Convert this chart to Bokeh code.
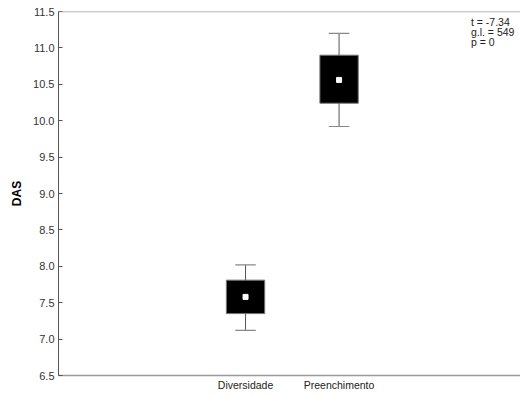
from bokeh.plotting import figure
from bokeh.models import FixedTicker, Span, Label, ColumnDataSource
from bokeh.embed import file_html
from bokeh.resources import INLINE

# Group summaries for DAS
groups = ["Diversidade", "Preenchimento"]
group_pos = [2, 3]
means = [7.58, 10.56]
box_low = [7.35, 10.24]
box_high = [7.81, 10.90]
whisk_low = [7.12, 9.92]
whisk_high = [8.02, 11.20]
y_ticks = [6.5, 7.0, 7.5, 8.0, 8.5, 9.0, 9.5, 10.0, 10.5, 11.0, 11.5]
stats_text = ["t = -7.34", "g.l. = 549", "p = 0"]

FONT = "Liberation Sans"

p = figure(width=520, height=396, output_backend="svg", toolbar_location=None,
           x_range=(0, 4.94), y_range=(6.5, 11.5),
           min_border_left=58, min_border_right=0, min_border_top=11,
           min_border_bottom=21)
p.outline_line_color = None
p.xgrid.visible = False
p.ygrid.visible = False
p.background_fill_color = "white"

src = ColumnDataSource(dict(x=group_pos, mean=means, lo=box_low, hi=box_high,
                            wlo=whisk_low, whi=whisk_high))

# whiskers
p.segment(x0="x", x1="x", y0="wlo", y1="whi", source=src, line_color="#555555", line_width=1)
p.segment(x0=[x - 0.11 for x in group_pos], x1=[x + 0.11 for x in group_pos],
          y0=whisk_low, y1=whisk_low, line_color="#888888", line_width=1.2)
p.segment(x0=[x - 0.11 for x in group_pos], x1=[x + 0.11 for x in group_pos],
          y0=whisk_high, y1=whisk_high, line_color="#888888", line_width=1.2)
# boxes
p.vbar(x="x", width=0.41, bottom="lo", top="hi", source=src,
       fill_color="black", line_color="#777777", line_width=1)
# means
p.scatter(x="x", y="mean", source=src, marker="square", size=5,
          fill_color="white", line_color="white")

# axes
p.yaxis.ticker = FixedTicker(ticks=y_ticks)
p.yaxis.major_label_overrides = {v: f"{v:.1f}" for v in y_ticks}
p.yaxis.major_tick_in = 4
p.yaxis.major_tick_out = 0
p.yaxis.minor_tick_line_color = None
p.yaxis.axis_line_color = "#555555"
p.yaxis.major_tick_line_color = "#555555"
p.yaxis.major_label_text_font = FONT
p.yaxis.major_label_text_font_size = "11px"
p.yaxis.major_label_text_color = "#333333"
p.yaxis.major_label_standoff = 4
p.yaxis.axis_label = "DAS"
p.yaxis.axis_label_text_font = FONT
p.yaxis.axis_label_text_font_style = "bold"
p.yaxis.axis_label_text_font_size = "12px"
p.yaxis.axis_label_text_color = "black"
p.yaxis.axis_label_standoff = 6

p.xaxis.ticker = FixedTicker(ticks=group_pos)
p.xaxis.major_label_overrides = dict(zip(group_pos, groups))
p.xaxis.major_tick_line_color = None
p.xaxis.major_tick_in = 0
p.xaxis.major_tick_out = 0
p.xaxis.minor_tick_line_color = None
p.xaxis.axis_line_color = "#999999"
p.xaxis.axis_line_width = 1.5
p.xaxis.major_label_text_font = FONT
p.xaxis.major_label_text_font_size = "10.5px"
p.xaxis.major_label_text_color = "#222222"
p.xaxis.major_label_standoff = 3

# top border line
p.add_layout(Span(location=11.5, dimension="width", line_color="#999999", line_width=1.5))

# test statistics, stacked in the upper right corner
stat_y = [11.353, 11.216, 11.078]
for t, yv in zip(stats_text, stat_y):
    p.add_layout(Label(x=4.41, y=yv, text=t, text_font=FONT, text_font_size="10.5px",
                       text_color="#222222", text_baseline="middle"))

open("out.html", "w").write(file_html(p, INLINE))
